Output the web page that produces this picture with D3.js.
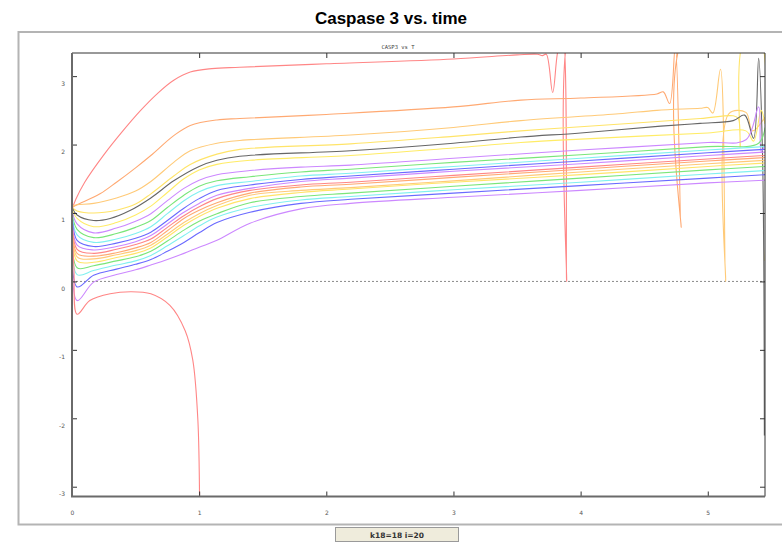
<!DOCTYPE html>
<html>
<head>
<meta charset="utf-8">
<script src="https://cdn.jsdelivr.net/npm/d3@7"></script>
<style>
body { margin: 0; background: #fff; }
</style>
</head>
<body>
<div id="vis1"></div>
<script>
"use strict";
// curves, [t, casp3] pairs, top to bottom
var c01 = [[0,1.05],[0.03,1.2],[0.1,1.45],[0.25,1.85],[0.4,2.2],[0.54,2.5],[0.68,2.76],[0.8,2.94],[0.93,3.06],[1.1,3.11],[1.32,3.13],[2.0,3.18],[3.0,3.25],[3.5,3.31],[3.66,3.32],[3.70,3.30],[3.73,3.32],[3.78,2.76],[3.82,3.36],[3.86,3.6],[3.89,0.0],[3.905,3.6],[4.0,3.8],[5.45,4.5]];
var c02 = [[0,1.08],[0.04,1.12],[0.22,1.28],[0.35,1.45],[0.5,1.66],[0.62,1.84],[0.8,2.13],[0.93,2.28],[1.14,2.36],[1.32,2.38],[2.0,2.44],[3.0,2.55],[3.53,2.65],[4.0,2.68],[4.6,2.74],[4.65,2.77],[4.70,2.60],[4.745,3.45],[4.79,0.79],[4.81,3.6],[5.45,4.5]];
var c03 = [[0,1.10],[0.04,1.12],[0.17,1.14],[0.35,1.22],[0.5,1.32],[0.62,1.46],[0.8,1.74],[0.93,1.91],[1.14,2.02],[1.32,2.06],[2.19,2.14],[3.0,2.25],[3.53,2.35],[4.3,2.45],[4.6,2.50],[4.94,2.53],[5.0,2.54],[5.04,2.46],[5.10,3.1],[5.14,0.0],[5.165,2.45],[5.3,2.47],[5.35,2.2],[5.45,2.4]];
var c04 = [[0,1.08],[0.04,1.03],[0.17,1.0],[0.35,1.04],[0.5,1.13],[0.62,1.28],[0.8,1.54],[0.93,1.71],[1.14,1.86],[1.32,1.93],[2.19,2.01],[3.0,2.12],[3.53,2.20],[4.0,2.26],[4.94,2.38],[5.2,2.42],[5.24,2.38],[5.255,1.96],[5.28,3.5],[5.40,3.6],[5.45,0.3]];
var c05 = [[0,1.08],[0.04,0.97],[0.17,0.89],[0.3,0.92],[0.46,1.04],[0.62,1.22],[0.8,1.47],[1.0,1.68],[1.14,1.77],[1.32,1.83],[2.19,1.91],[3.0,2.02],[3.53,2.11],[4.0,2.17],[4.63,2.27],[4.94,2.31],[5.20,2.35],[5.29,2.43],[5.36,2.09],[5.40,3.26],[5.43,1.9],[5.445,-2.25]];
var c06 = [[0,1.06],[0.04,0.92],[0.17,0.80],[0.35,0.86],[0.5,0.97],[0.62,1.10],[0.75,1.30],[0.88,1.50],[1.0,1.63],[1.14,1.71],[1.4,1.77],[2.19,1.84],[3.0,1.95],[3.53,2.03],[4.0,2.08],[5.0,2.17],[5.3,2.2],[5.36,2.05],[5.42,2.5],[5.45,2.3]];
var c07 = [[0,1.05],[0.04,0.84],[0.17,0.71],[0.35,0.78],[0.5,0.88],[0.62,0.99],[0.75,1.18],[0.88,1.36],[1.0,1.48],[1.14,1.56],[1.4,1.62],[1.8,1.67],[2.19,1.70],[3.0,1.80],[4.0,1.92],[5.0,2.03],[5.3,2.07],[5.40,2.55],[5.42,1.9],[5.45,2.0]];
var c08 = [[0,1.04],[0.04,0.76],[0.17,0.64],[0.35,0.70],[0.5,0.79],[0.62,0.89],[0.75,1.08],[0.88,1.26],[1.0,1.39],[1.14,1.47],[1.4,1.53],[1.8,1.60],[2.19,1.64],[3.0,1.74],[4.0,1.85],[5.0,1.97],[5.4,2.02],[5.45,2.25]];
var c09 = [[0,1.04],[0.04,0.68],[0.17,0.57],[0.35,0.62],[0.5,0.70],[0.62,0.80],[0.75,0.99],[0.88,1.18],[1.0,1.31],[1.14,1.40],[1.4,1.46],[1.8,1.54],[2.19,1.58],[3.0,1.68],[4.0,1.80],[5.0,1.92],[5.45,1.97]];
var c10 = [[0,1.03],[0.04,0.60],[0.17,0.51],[0.35,0.56],[0.5,0.63],[0.62,0.72],[0.75,0.89],[0.88,1.07],[1.0,1.21],[1.14,1.33],[1.4,1.41],[1.8,1.49],[2.19,1.54],[3.0,1.64],[4.0,1.76],[5.0,1.88],[5.45,1.93]];
var c11 = [[0,1.03],[0.04,0.53],[0.17,0.46],[0.35,0.51],[0.5,0.58],[0.62,0.67],[0.75,0.84],[0.88,1.01],[1.0,1.14],[1.14,1.26],[1.4,1.36],[1.8,1.46],[2.19,1.51],[3.0,1.61],[4.0,1.72],[5.0,1.84],[5.45,1.89]];
var c12 = [[0,1.02],[0.04,0.47],[0.17,0.41],[0.35,0.47],[0.5,0.54],[0.62,0.62],[0.75,0.79],[0.88,0.96],[1.0,1.09],[1.14,1.21],[1.4,1.33],[1.8,1.41],[2.19,1.45],[3.0,1.55],[4.0,1.67],[5.0,1.79],[5.45,1.84]];
var c13 = [[0,1.02],[0.04,0.41],[0.17,0.37],[0.35,0.42],[0.5,0.49],[0.62,0.57],[0.75,0.74],[0.88,0.92],[1.0,1.04],[1.14,1.15],[1.4,1.29],[1.8,1.38],[2.19,1.42],[3.0,1.52],[4.0,1.64],[5.0,1.76],[5.45,1.81]];
var c14 = [[0,1.02],[0.04,0.36],[0.17,0.33],[0.35,0.39],[0.5,0.45],[0.62,0.53],[0.75,0.69],[0.88,0.86],[1.0,0.99],[1.14,1.11],[1.4,1.26],[1.8,1.33],[2.19,1.37],[3.0,1.47],[4.0,1.60],[5.0,1.72],[5.45,1.77]];
var c15 = [[0,1.01],[0.04,0.30],[0.17,0.28],[0.35,0.35],[0.5,0.41],[0.62,0.49],[0.75,0.65],[0.88,0.82],[1.0,0.95],[1.14,1.07],[1.4,1.21],[1.8,1.30],[2.19,1.35],[3.0,1.45],[4.0,1.56],[5.0,1.68],[5.45,1.73]];
var c16 = [[0,1.01],[0.04,0.20],[0.17,0.23],[0.35,0.30],[0.5,0.36],[0.62,0.44],[0.75,0.59],[0.88,0.75],[1.0,0.88],[1.14,0.99],[1.4,1.15],[1.8,1.24],[2.19,1.29],[3.0,1.39],[4.0,1.51],[5.0,1.63],[5.45,1.68]];
var c17 = [[0,1.0],[0.04,0.10],[0.17,0.16],[0.35,0.24],[0.5,0.30],[0.62,0.38],[0.75,0.52],[0.88,0.67],[1.0,0.81],[1.14,0.94],[1.4,1.08],[1.8,1.19],[2.19,1.24],[3.0,1.34],[4.0,1.45],[5.0,1.57],[5.45,1.62]];
var c18 = [[0,1.0],[0.04,-0.08],[0.17,0.09],[0.35,0.18],[0.5,0.25],[0.62,0.32],[0.75,0.44],[0.88,0.57],[1.0,0.71],[1.14,0.86],[1.4,1.01],[1.8,1.14],[2.19,1.20],[3.0,1.29],[4.0,1.40],[5.0,1.51],[5.45,1.56]];
var c19 = [[0,1.0],[0.04,-0.28],[0.17,-0.01],[0.35,0.10],[0.5,0.17],[0.62,0.24],[0.75,0.32],[0.88,0.41],[1.0,0.50],[1.14,0.60],[1.4,0.85],[1.8,1.06],[2.19,1.14],[3.0,1.23],[4.0,1.33],[5.0,1.44],[5.45,1.48]];
var c20 = [[0,1.0],[0.015,0.2],[0.04,-0.48],[0.14,-0.28],[0.3,-0.18],[0.46,-0.15],[0.62,-0.18],[0.77,-0.35],[0.89,-0.72],[0.95,-1.15],[0.99,-2.03],[1.005,-3.5],[1.01,-5]];

var curves = [c01, c02, c03, c04, c05, c06, c07, c08, c09, c10, c11, c12, c13, c14, c15, c16, c17, c18, c19, c20];
var colors = ['#ff8686', '#ffa972', '#ffca78', '#ffe468', '#666666', '#ffec66', '#cc88ff', '#7ae67a', '#80f0f0', '#6a6aff',
              '#cc88ff', '#ff8686', '#ffa972', '#ffca78', '#ffe468', '#7ae67a', '#80f0f0', '#6a6aff', '#cc88ff', '#ff8686'];
var xTicks = [0, 1, 2, 3, 4, 5];
var yTicks = [-3, -2, -1, 0, 1, 2, 3];

var W = 782, H = 542;
var frame = { left: 72, right: 765, top: 53, bottom: 496.5 };

var svg = d3.select('#vis1')
    .append('svg')
    .attr('width', W)
    .attr('height', H)
    .style('display', 'block');

svg.append('text')
    .text('Caspase 3 vs. time')
    .attr('x', 391)
    .attr('y', 24)
    .attr('text-anchor', 'middle')
    .style('font-family', '"Liberation Sans", Arial, sans-serif')
    .style('font-weight', 'bold')
    .style('font-size', '17px')
    .attr('fill', '#000');

// outer panel
svg.append('rect')
    .attr('x', 18.5)
    .attr('y', 32)
    .attr('width', 800)
    .attr('height', 492.5)
    .attr('fill', '#fff')
    .attr('stroke', '#b4b4b4')
    .attr('stroke-width', 2);

svg.append('text')
    .text('CASP3 vs T')
    .attr('x', 398)
    .attr('y', 49)
    .attr('text-anchor', 'middle')
    .style('font-family', '"DejaVu Sans Mono", monospace')
    .style('font-size', '5.5px')
    .attr('fill', '#444');

var x = d3.scaleLinear().domain([0, 5.45]).range([frame.left, frame.right]);
var y = d3.scaleLinear().domain([-3.143, 3.338]).range([frame.bottom, frame.top]);

svg.append('clipPath')
    .attr('id', 'plotclip')
    .append('rect')
    .attr('x', frame.left)
    .attr('y', frame.top)
    .attr('width', frame.right - frame.left)
    .attr('height', frame.bottom - frame.top);

// zero line
svg.append('line')
    .attr('x1', x(0))
    .attr('x2', x(5.45))
    .attr('y1', y(0))
    .attr('y2', y(0))
    .attr('stroke', '#8a8a8a')
    .attr('stroke-width', 1)
    .attr('stroke-dasharray', '2,2');

var line = d3.line()
    .x(function (d) { return x(d[0]); })
    .y(function (d) { return y(d[1]); })
    .curve(d3.curveCatmullRom.alpha(0.5));

svg.append('g')
    .attr('clip-path', 'url(#plotclip)')
    .selectAll('path')
    .data(curves)
    .enter().append('path')
    .attr('d', line)
    .attr('fill', 'none')
    .attr('stroke', function (d, i) { return colors[i]; })
    .attr('stroke-width', 1.1)
    .attr('stroke-linejoin', 'round');

// axes, ticks pointing inward on all four sides
var tickFont = function (g) {
    g.select('.domain').remove();
    g.selectAll('line').attr('stroke', '#333');
    g.selectAll('text')
        .style('font-family', '"DejaVu Sans", sans-serif')
        .style('font-size', '6px')
        .attr('fill', '#555');
};

svg.append('g')
    .attr('transform', 'translate(0,' + frame.bottom + ')')
    .call(d3.axisBottom(x).tickValues(xTicks).tickSize(-5).tickPadding(14.5)
        .tickFormat(function (d) { return String(d); }))
    .call(tickFont);

svg.append('g')
    .attr('transform', 'translate(0,' + frame.top + ')')
    .call(d3.axisTop(x).tickValues(xTicks).tickSize(-5).tickFormat(''))
    .call(tickFont);

svg.append('g')
    .attr('transform', 'translate(' + frame.left + ',0)')
    .call(d3.axisLeft(y).tickValues(yTicks).tickSize(-5).tickPadding(7)
        .tickFormat(function (d) { return String(d); }))
    .call(tickFont)
    .selectAll('text')
    .attr('dy', '1.5em');

svg.append('g')
    .attr('transform', 'translate(' + frame.right + ',0)')
    .call(d3.axisRight(y).tickValues(yTicks).tickSize(-5).tickFormat(''))
    .call(tickFont);

// frame
svg.append('path')
    .attr('d', 'M' + frame.left + ',' + frame.top + 'H' + frame.right + 'V' + frame.bottom)
    .attr('fill', 'none')
    .attr('stroke', '#333')
    .attr('stroke-width', 1);
svg.append('path')
    .attr('d', 'M' + frame.left + ',' + frame.top + 'V' + frame.bottom + 'H' + frame.right)
    .attr('fill', 'none')
    .attr('stroke', '#6a6a6a')
    .attr('stroke-width', 2);

// status box
svg.append('rect')
    .attr('x', 335.5)
    .attr('y', 527.5)
    .attr('width', 123)
    .attr('height', 14)
    .attr('fill', '#efecdc')
    .attr('stroke', '#9a9a9a');
svg.append('text')
    .text('k18=18  i=20')
    .attr('x', 397)
    .attr('y', 537.5)
    .attr('text-anchor', 'middle')
    .style('font-family', '"DejaVu Sans", sans-serif')
    .style('font-weight', 'bold')
    .style('font-size', '7.5px')
    .attr('fill', '#333');
</script>
</body>
</html>
